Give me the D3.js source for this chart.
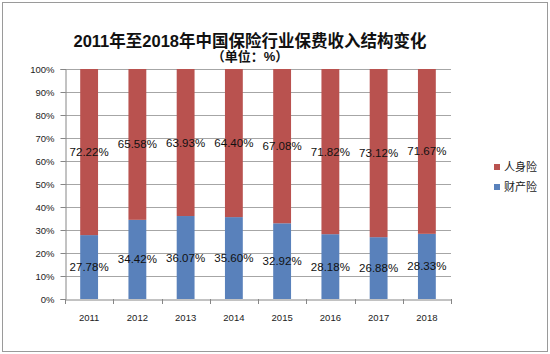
<!DOCTYPE html>
<html><head><meta charset="utf-8">
<script src="https://cdn.jsdelivr.net/npm/d3@7"></script>
<style>
body{margin:0;background:#fff;}
svg{display:block;}
text{font-family:"Liberation Sans",Arial,"Noto Sans CJK SC",sans-serif;}
</style></head>
<body><div id="chart"></div>
<script>
const years = ["2011","2012","2013","2014","2015","2016","2017","2018"];
const propertyIns = [27.78,34.42,36.07,35.60,32.92,28.18,26.88,28.33];
const lifeIns = [72.22,65.58,63.93,64.40,67.08,71.82,73.12,71.67];
const seriesNames = ["财产险","人身险"];
const yTicks = [0,10,20,30,40,50,60,70,80,90,100];
const titleText = "2011年至2018年中国保险行业保费收入结构变化";
const subtitleText = "（单位：%）";

const W=550,H=354;
const colors = {"财产险":"#5981BB","人身险":"#B9524F"};
const svg = d3.select("#chart").append("svg").attr("width",W).attr("height",H);
svg.append("rect").attr("x",2.5).attr("y",2.5).attr("width",545).attr("height",349)
  .attr("fill","#fff").attr("stroke","#9a9a9a").attr("stroke-width",1);

const L=65,R=451,T=69,B=299;
const x = d3.scaleBand().domain(years).range([L,R]).paddingInner(0.63).paddingOuter(0.315);
const y = d3.scaleLinear().domain([0,100]).range([B,T]);

// gridlines
svg.append("g").selectAll("line").data(yTicks.filter(d=>d>0)).join("line")
  .attr("x1",L).attr("x2",R).attr("y1",d=>Math.round(y(d))+0.5).attr("y2",d=>Math.round(y(d))+0.5)
  .attr("stroke","#a6a6a6").attr("stroke-width",1);

// stacked data
const rows = years.map((yr,i)=>({year:yr,"财产险":propertyIns[i],"人身险":lifeIns[i]}));
const stack = d3.stack().keys(seriesNames)(rows);
const g = svg.append("g");
stack.forEach(s=>{
  g.selectAll(null).data(s).join("rect")
    .attr("x",d=>x(d.data.year)).attr("width",x.bandwidth())
    .attr("y",d=>y(d[1])).attr("height",d=>y(d[0])-y(d[1]))
    .attr("fill",colors[s.key]);
});

// axes
const yAxis = d3.axisLeft(y).tickValues(yTicks).tickFormat(d=>d+"%").tickSize(5);
const ya = svg.append("g").attr("transform",`translate(${L+0.5},0)`).call(yAxis);
ya.select(".domain").attr("stroke","#868686");
ya.selectAll(".tick line").attr("stroke","#868686");
ya.selectAll(".tick text").attr("font-size","9.5px").attr("fill","#222").attr("x",-11);

const xAxis = d3.axisBottom(x).tickSize(0).tickSizeOuter(0);
const xa = svg.append("g").attr("transform",`translate(0,${B+0.5})`).call(xAxis);
xa.select(".domain").attr("stroke","#868686");
xa.selectAll(".tick text").attr("font-size","9.5px").attr("fill","#222").attr("dy","0").attr("y",21);
// x tick marks at band boundaries
const bounds = years.map(yv=>x(yv)-x.step()*x.paddingInner()/2).concat([R]);
svg.append("g").selectAll("line").data(bounds).join("line")
  .attr("x1",d=>Math.round(d)+0.5).attr("x2",d=>Math.round(d)+0.5)
  .attr("y1",B).attr("y2",B+5).attr("stroke","#868686");

// data labels
stack.forEach(s=>{
  g.selectAll(null).data(s).join("text")
    .attr("x",d=>x(d.data.year)+x.bandwidth()/2)
    .attr("y",d=>y((d[0]+d[1])/2))
    .attr("dy","0.35em").attr("text-anchor","middle")
    .attr("font-size","11.5px").attr("fill","#111")
    .text(d=>d.data[s.key].toFixed(2)+"%");
});

// title
svg.append("text").attr("x",250).attr("y",47).attr("text-anchor","middle")
  .attr("font-size","16.5px").attr("font-weight","bold").attr("fill","#111").text(titleText);
svg.append("text").attr("x",250).attr("y",61).attr("text-anchor","middle")
  .attr("font-size","13px").attr("font-weight","bold").attr("fill","#111").text(subtitleText);

// legend
const legendItems = ["人身险","财产险"];
const lg = svg.append("g");
legendItems.forEach((n,i)=>{
  const yy = 167 + i*20;
  lg.append("rect").attr("x",494).attr("y",yy-3).attr("width",6).attr("height",6).attr("fill",colors[n]);
  lg.append("text").attr("x",504).attr("y",yy).attr("dy","0.35em").attr("font-size","11px").attr("fill","#222").text(n);
});
</script></body></html>
